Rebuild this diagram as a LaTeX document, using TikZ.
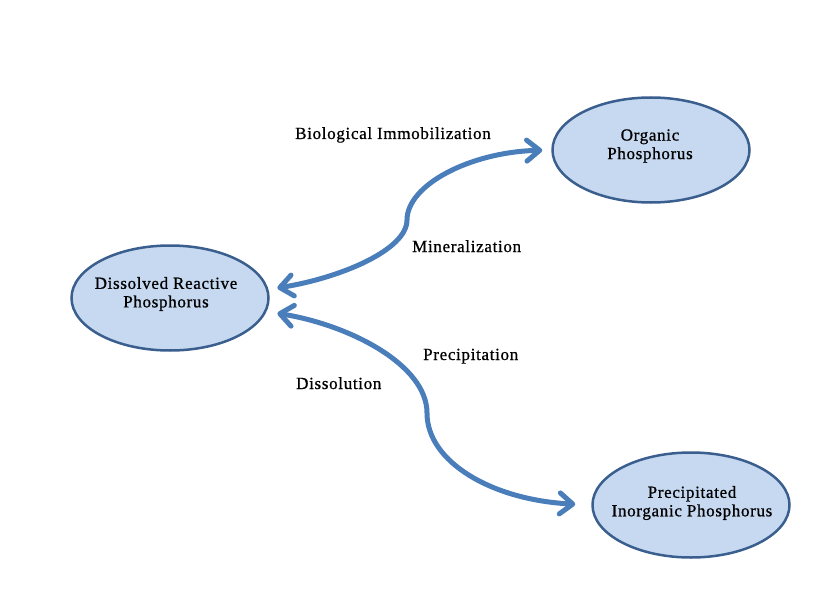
\documentclass[tikz,border=0pt]{standalone}
\usepackage{fontspec}
\setmainfont{Liberation Serif}[LetterSpace=4,FakeBold=0.8]
\usetikzlibrary{shapes.geometric,arrows.meta}
\definecolor{fillblue}{HTML}{C6D9F1}
\definecolor{edgeblue}{HTML}{3A5F8E}
\definecolor{arrowblue}{HTML}{4A7EBB}
\begin{document}
\begin{tikzpicture}[x=1pt,y=-1pt,
  pool/.style={ellipse, draw=edgeblue, line width=2.5pt, fill=fillblue,
    minimum width=197pt, minimum height=105pt, inner sep=0pt},
  pooltext/.style={inner sep=0pt, align=center, font=\fontsize{17}{18.5}\selectfont},
  barbtip/.tip={Straight Barb[length=13pt,width=21pt,line cap=round,line join=round]},
  flow/.style={draw=arrowblue, line width=5pt, line cap=round, barbtip-barbtip},
  lbl/.style={font=\fontsize{17}{18.5}\selectfont, inner sep=0pt, anchor=base west}]
\useasboundingbox (0,0) rectangle (819,607);

\node[pool] (dis) at (170,298) {};
\node[pool] (org) at (651,150) {};
\node[pool] (pre) at (691,505) {};
\node[pooltext] (dist) at (166,294) {Dissolved Reactive\\Phosphorus};
\node[pooltext] (orgt) at (650,146) {Organic\\Phosphorus};
\node[pooltext] (pret) at (692,503) {Precipitated\\Inorganic Phosphorus};

\coordinate (m1) at (407,220);
\coordinate (m2) at (427,413);

\draw[flow, shorten <=9pt, shorten >=9pt] (dis.5) .. controls (340,278) and (407,250) .. (m1)
  .. controls (407,185) and (470,152) .. (org.west);
\draw[flow, shorten <=11pt, shorten >=16pt] (dis.-8) .. controls (350,325) and (427,365) .. (m2)
  .. controls (427,462) and (492,500) .. (pre.west);

\node[lbl] (bi) at (295,139) {Biological Immobilization};
\node[lbl] (mi) at (412,252) {Mineralization};
\node[lbl] (pr) at (423,360) {Precipitation};
\node[lbl] (ds) at (296,389) {Dissolution};
\end{tikzpicture}
\end{document}
